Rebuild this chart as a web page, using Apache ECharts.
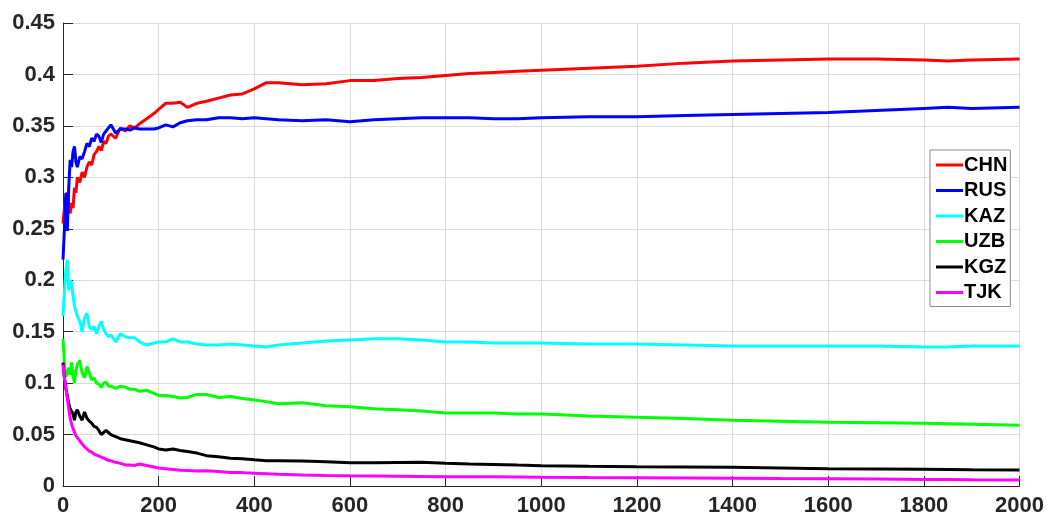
<!DOCTYPE html>
<html>
<head>
<meta charset="utf-8">
<script src="https://cdn.jsdelivr.net/npm/echarts@6/dist/echarts.min.js"></script>
<style>html,body{margin:0;padding:0;background:#fff;}#c{width:1047px;height:519px;}</style>
</head>
<body>
<div id="c"></div>
<script>
const names = ['CHN','RUS','KAZ','UZB','KGZ','TJK'];
const xs = [0,3,6,9,12,15,18,21,24,27,30,35,40,45,50,55,60,65,70,75,80,85,90,95,100,110,120,130,140,150,160,175,190,200,215,230,245,260,280,300,325,350,375,400,425,450,500,550,600,650,700,750,800,850,900,950,1000,1100,1200,1300,1400,1500,1600,1700,1800,1850,1900,2000];
const CHN = [0.255,0.27,0.28,0.285,0.27,0.265,0.275,0.27,0.29,0.285,0.30,0.295,0.305,0.30,0.31,0.315,0.312,0.322,0.325,0.33,0.326,0.335,0.333,0.34,0.342,0.338,0.348,0.345,0.35,0.348,0.352,0.357,0.362,0.366,0.372,0.372,0.373,0.368,0.372,0.374,0.377,0.38,0.381,0.386,0.392,0.392,0.390,0.391,0.394,0.394,0.396,0.397,0.399,0.401,0.402,0.403,0.404,0.406,0.408,0.411,0.413,0.414,0.415,0.415,0.414,0.413,0.414,0.415];
const RUS = [0.22,0.25,0.285,0.248,0.29,0.317,0.31,0.325,0.33,0.315,0.31,0.32,0.318,0.325,0.333,0.33,0.338,0.335,0.342,0.34,0.334,0.342,0.345,0.348,0.351,0.343,0.347,0.347,0.346,0.348,0.347,0.347,0.347,0.348,0.351,0.349,0.353,0.355,0.356,0.356,0.358,0.358,0.357,0.358,0.357,0.356,0.355,0.356,0.354,0.356,0.357,0.358,0.358,0.358,0.357,0.357,0.358,0.359,0.359,0.360,0.361,0.362,0.363,0.365,0.367,0.368,0.367,0.368];
const KAZ = [0.165,0.19,0.21,0.22,0.19,0.2,0.197,0.185,0.175,0.17,0.165,0.16,0.15,0.163,0.168,0.155,0.152,0.155,0.148,0.155,0.16,0.152,0.148,0.145,0.147,0.14,0.148,0.145,0.144,0.144,0.14,0.137,0.139,0.14,0.14,0.143,0.14,0.14,0.138,0.137,0.137,0.138,0.137,0.136,0.135,0.137,0.139,0.141,0.142,0.143,0.143,0.142,0.140,0.140,0.139,0.139,0.139,0.138,0.138,0.137,0.136,0.136,0.136,0.136,0.135,0.135,0.136,0.136];
const UZB = [0.143,0.12,0.106,0.11,0.115,0.108,0.12,0.108,0.1,0.112,0.118,0.122,0.11,0.105,0.116,0.11,0.103,0.105,0.1,0.099,0.096,0.1,0.101,0.097,0.097,0.095,0.097,0.096,0.094,0.094,0.092,0.093,0.09,0.088,0.088,0.087,0.0855,0.086,0.089,0.089,0.086,0.087,0.085,0.0836,0.082,0.080,0.081,0.078,0.077,0.075,0.074,0.073,0.071,0.071,0.071,0.070,0.070,0.068,0.0667,0.0655,0.064,0.063,0.062,0.0615,0.061,0.0605,0.060,0.059];
const KGZ = [0.12,0.105,0.095,0.088,0.08,0.075,0.074,0.07,0.064,0.072,0.074,0.068,0.064,0.072,0.066,0.063,0.061,0.058,0.057,0.054,0.05,0.052,0.054,0.052,0.05,0.048,0.046,0.045,0.044,0.043,0.042,0.04,0.038,0.036,0.035,0.036,0.0345,0.0335,0.032,0.0295,0.0285,0.027,0.0265,0.0255,0.0246,0.0245,0.0243,0.0235,0.0227,0.0225,0.0228,0.023,0.022,0.0213,0.021,0.0203,0.0197,0.0192,0.0188,0.0185,0.0182,0.0175,0.0168,0.0165,0.0162,0.016,0.0158,0.0156];
const TJK = [0.118,0.105,0.095,0.085,0.075,0.066,0.06,0.056,0.052,0.049,0.047,0.044,0.041,0.038,0.036,0.034,0.033,0.031,0.030,0.029,0.028,0.027,0.026,0.025,0.0245,0.023,0.022,0.0205,0.0205,0.02,0.0214,0.02,0.0185,0.0175,0.0168,0.016,0.0152,0.015,0.0145,0.0148,0.014,0.0132,0.013,0.0125,0.012,0.0115,0.0107,0.0102,0.0099,0.0097,0.0095,0.0093,0.0091,0.009,0.009,0.0088,0.0085,0.0082,0.008,0.0078,0.0075,0.0072,0.007,0.0067,0.0063,0.0062,0.006,0.0058];
const xTicks = [0,200,400,600,800,1000,1200,1400,1600,1800,2000];
const yTicks = [0,0.05,0.1,0.15,0.2,0.25,0.3,0.35,0.4,0.45];
const colors = ['#ff0000','#0000ff','#00ffff','#00ff00','#000000','#ff00ff'];
const values = [CHN,RUS,KAZ,UZB,KGZ,TJK];

const FONT = '"Liberation Sans", Arial, Helvetica, sans-serif';
const chart = echarts.init(document.getElementById('c'), null, {renderer:'canvas'});
const series = names.map((n,i)=>({
  name:n, type:'line', showSymbol:false, symbol:'none',
  data: xs.map((x,j)=>[x, values[i][j]]),
  lineStyle:{color:colors[i], width:3},
  itemStyle:{color:colors[i]},
  animation:false, z: 2+i
}));
chart.setOption({
  animation:false,
  backgroundColor:'#ffffff',
  grid:{left:63, right:27, top:23, bottom:33, containLabel:false},
  xAxis:{
    type:'value', min:xTicks[0], max:xTicks[xTicks.length-1], interval:200,
    axisLine:{show:true, lineStyle:{color:'#262626', width:1}},
    axisTick:{show:true, inside:true, length:10, lineStyle:{color:'#262626'}},
    axisLabel:{color:'#262626', fontSize:22, fontWeight:'bold', fontFamily:FONT, margin:9,
      formatter:v=>String(v)},
    splitLine:{show:true, lineStyle:{color:'#dadada', width:1}}
  },
  yAxis:{
    type:'value', min:yTicks[0], max:yTicks[yTicks.length-1], interval:0.05,
    axisLine:{show:true, lineStyle:{color:'#262626', width:1}},
    axisTick:{show:true, inside:true, length:10, lineStyle:{color:'#262626'}},
    axisLabel:{color:'#262626', fontSize:22, fontWeight:'bold', fontFamily:FONT, margin:8,
      formatter:v=>String(Math.round(v*100)/100)},
    splitLine:{show:true, lineStyle:{color:'#dadada', width:1}}
  },
  legend:{
    orient:'vertical', left:930, top:150,
    data:names.map((n,i)=>({name:n, icon:'rect', itemStyle:{color:colors[i]}})),
    itemWidth:27, itemHeight:3, itemGap:5.5,
    padding:[5,3,4,6],
    backgroundColor:'#ffffff', borderColor:'#8c8c8c', borderWidth:1,
    textStyle:{color:'#000', fontSize:20, fontWeight:'bold', fontFamily:FONT, lineHeight:20, padding:[0,0,0,-4]}
  },
  series:series
});
</script>
</body>
</html>
